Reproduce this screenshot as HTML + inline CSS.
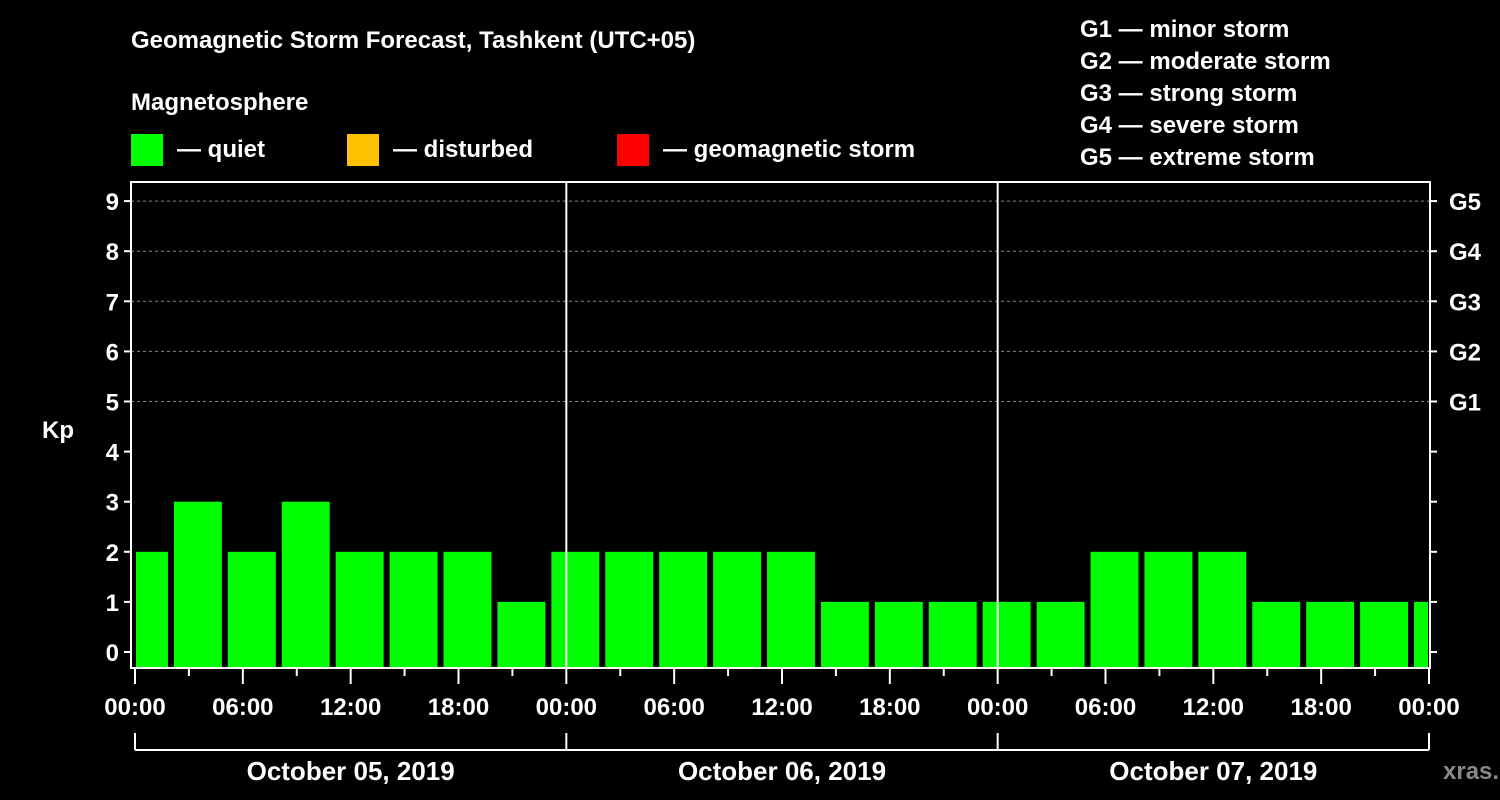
<!DOCTYPE html>
<html><head><meta charset="utf-8">
<style>
html,body{margin:0;padding:0;background:#000;}
svg{display:block;font-family:"Liberation Sans",sans-serif;font-weight:bold;}
</style></head>
<body>
<svg id="chart" width="1500" height="800" viewBox="0 0 1500 800">
  <text x="131" y="48" fill="#fff" font-size="24">Geomagnetic Storm Forecast, Tashkent (UTC+05)</text>
  <text x="131" y="110" fill="#fff" font-size="24">Magnetosphere</text>
  <rect x="131" y="134" width="32" height="32" fill="#00ff00"/>
  <text x="177" y="157" fill="#fff" font-size="24">— quiet</text>
  <rect x="347" y="134" width="32" height="32" fill="#ffc000"/>
  <text x="393" y="157" fill="#fff" font-size="24">— disturbed</text>
  <rect x="617" y="134" width="32" height="32" fill="#ff0000"/>
  <text x="663" y="157" fill="#fff" font-size="24">— geomagnetic storm</text>
  <g fill="#fff" font-size="24">
    <text x="1080" y="37">G1 — minor storm</text>
    <text x="1080" y="69">G2 — moderate storm</text>
    <text x="1080" y="101">G3 — strong storm</text>
    <text x="1080" y="133">G4 — severe storm</text>
    <text x="1080" y="165">G5 — extreme storm</text>
  </g>
  <text x="42" y="438" fill="#fff" font-size="24">Kp</text>
  <text x="1443" y="779" fill="#888" font-size="24">xras.ru</text>
  <g id="plot"></g>
</svg>
<script>
const kpValues=[2,3,2,3,2,2,2,1,2,2,2,2,2,1,1,1,1,1,2,2,2,1,1,1,1];
const yTicks=[0,1,2,3,4,5,6,7,8,9];
const gLabels=["G1","G2","G3","G4","G5"];
const gLevels=[5,6,7,8,9];
const xLabels=["00:00","06:00","12:00","18:00","00:00","06:00","12:00","18:00","00:00","06:00","12:00","18:00","00:00"];
const dayLabels=["October 05, 2019","October 06, 2019","October 07, 2019"];
const firstBarStartHour=-1;

const NS="http://www.w3.org/2000/svg";
const plot=document.getElementById('plot');
const L=131,R=1430,T=182,B=668,X0=135,X1=1429;
const xs=h=>X0+(X1-X0)*h/72;
const ys=v=>652-v*50.1;
function mk(tag,attrs,parent){const e=document.createElementNS(NS,tag);for(const k in attrs)e.setAttribute(k,attrs[k]);(parent||plot).appendChild(e);return e;}

// gridlines
gLevels.forEach((v,i)=>{
  const g=mk('line',{x1:L,x2:R,y1:ys(v),y2:ys(v),stroke:'#888','stroke-dasharray':'3,3','stroke-width':1});
  
  
  const t=mk('text',{x:1449,y:ys(v)+9,fill:'#fff','font-size':24});
  t.textContent=gLabels[i];
  
  
});
// bars
kpValues.forEach((v,i)=>{
  const h0=firstBarStartHour+i*3;
  let x0=xs(h0)+3,x1=xs(h0+3)-3;
  x0=Math.max(x0,L+5);x1=Math.min(x1,R-2);
  const r=mk('rect',{x:x0,y:ys(v),width:x1-x0,height:B-ys(v),fill:'#00ff00'});
  
  
});
// day separators
[24,48].forEach(h=>{
  const l=mk('line',{x1:xs(h),x2:xs(h),y1:T,y2:B,stroke:'#fff','stroke-width':2});
  
  
});
// frame
const fr=mk('rect',{x:L,y:T,width:R-L,height:B-T,fill:'none',stroke:'#fff','stroke-width':2});


// y ticks
yTicks.forEach(v=>{
  mk('line',{x1:L-7,x2:L,y1:ys(v),y2:ys(v),stroke:'#fff','stroke-width':2});
  mk('line',{x1:R,x2:R+7,y1:ys(v),y2:ys(v),stroke:'#fff','stroke-width':2});
  const t=mk('text',{x:L-12,y:ys(v)+9,fill:'#fff','font-size':24,'text-anchor':'end'});
  t.textContent=v;
  
  
});
// x ticks
for(let h=0;h<=72;h+=3){
  const major=h%6===0;
  mk('line',{x1:xs(h),x2:xs(h),y1:B,y2:B+(major?16:8),stroke:'#fff','stroke-width':2});
}
xLabels.forEach((s,i)=>{
  const t=mk('text',{x:xs(i*6),y:715,fill:'#fff','font-size':24,'text-anchor':'middle'});
  t.textContent=s;
  
  
});
// date bracket
mk('line',{x1:xs(0),x2:xs(72),y1:750,y2:750,stroke:'#fff','stroke-width':2});
[0,24,48,72].forEach(h=>mk('line',{x1:xs(h),x2:xs(h),y1:733,y2:750,stroke:'#fff','stroke-width':2}));
dayLabels.forEach((s,i)=>{
  const t=mk('text',{x:xs(i*24+12),y:780,fill:'#fff','font-size':26,'text-anchor':'middle'});
  t.textContent=s;
  
  
});
</script>
</body></html>
